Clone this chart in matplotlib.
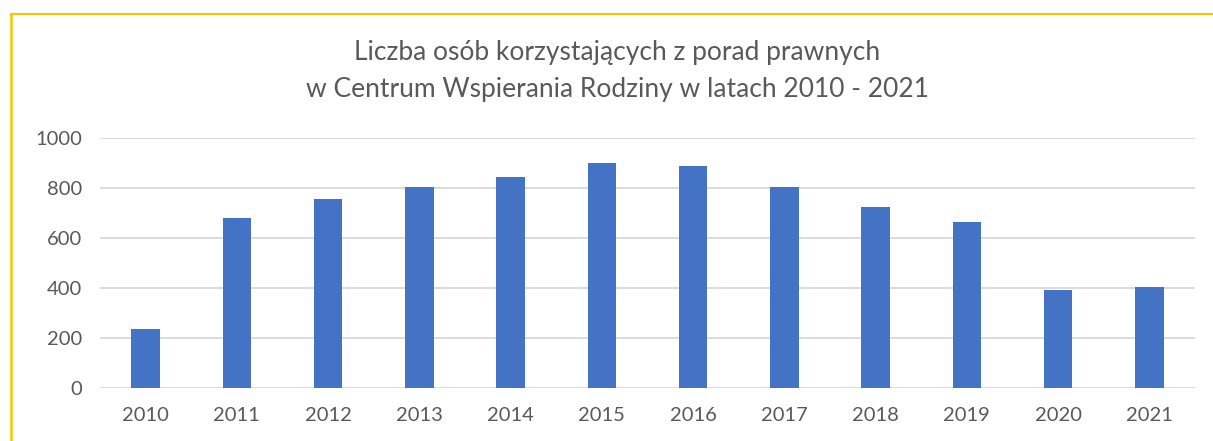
import matplotlib
matplotlib.use("Agg")
import matplotlib.pyplot as plt
from matplotlib.lines import Line2D

years = ["2010", "2011", "2012", "2013", "2014", "2015", "2016", "2017", "2018", "2019", "2020", "2021"]
values = [237, 681, 755, 805, 843, 899, 887, 805, 725, 663, 393, 403]
yticks = [0, 200, 400, 600, 800, 1000]
title = "Liczba osób korzystających z porad prawnych\nw Centrum Wspierania Rodziny w latach 2010 - 2021"

plt.rcParams['font.family'] = ['Lato', 'DejaVu Sans']

fig = plt.figure(figsize=(12.13, 4.41), dpi=100)
ax = fig.add_axes([100/1213, 53/441, 1095/1213, 250/441])

x = list(range(len(years)))
ax.bar(x, values, width=0.31, color="#4472C4", zorder=3)
ax.set_xlim(-0.5, len(years) - 0.5)
ax.set_ylim(0, 1000)
ax.set_yticks(yticks)
ax.set_xticks(x)
ax.set_xticklabels(years)
ax.grid(axis='y', color="#D9D9D9", linewidth=1.3, zorder=0)
ax.set_axisbelow(True)
for s in ax.spines.values():
    s.set_visible(False)
ax.tick_params(axis='both', length=0, labelsize=14.5, labelcolor="#595959")
ax.tick_params(axis='y', pad=13)
ax.tick_params(axis='x', pad=14)

fig.text(617/1213, 1 - 71/441, title, ha='center', va='center', fontsize=19,
         color="#595959", linespacing=1.58)

# gold border lines (top and left)
fig.add_artist(Line2D([11/1213, 1], [1 - 14/441, 1 - 14/441], color="#FFC000", linewidth=1.5, transform=fig.transFigure))
fig.add_artist(Line2D([11/1213, 11/1213], [0, 1 - 14/441], color="#FFC000", linewidth=1.8, transform=fig.transFigure))

fig.savefig("out.png", dpi=100, facecolor="white")
